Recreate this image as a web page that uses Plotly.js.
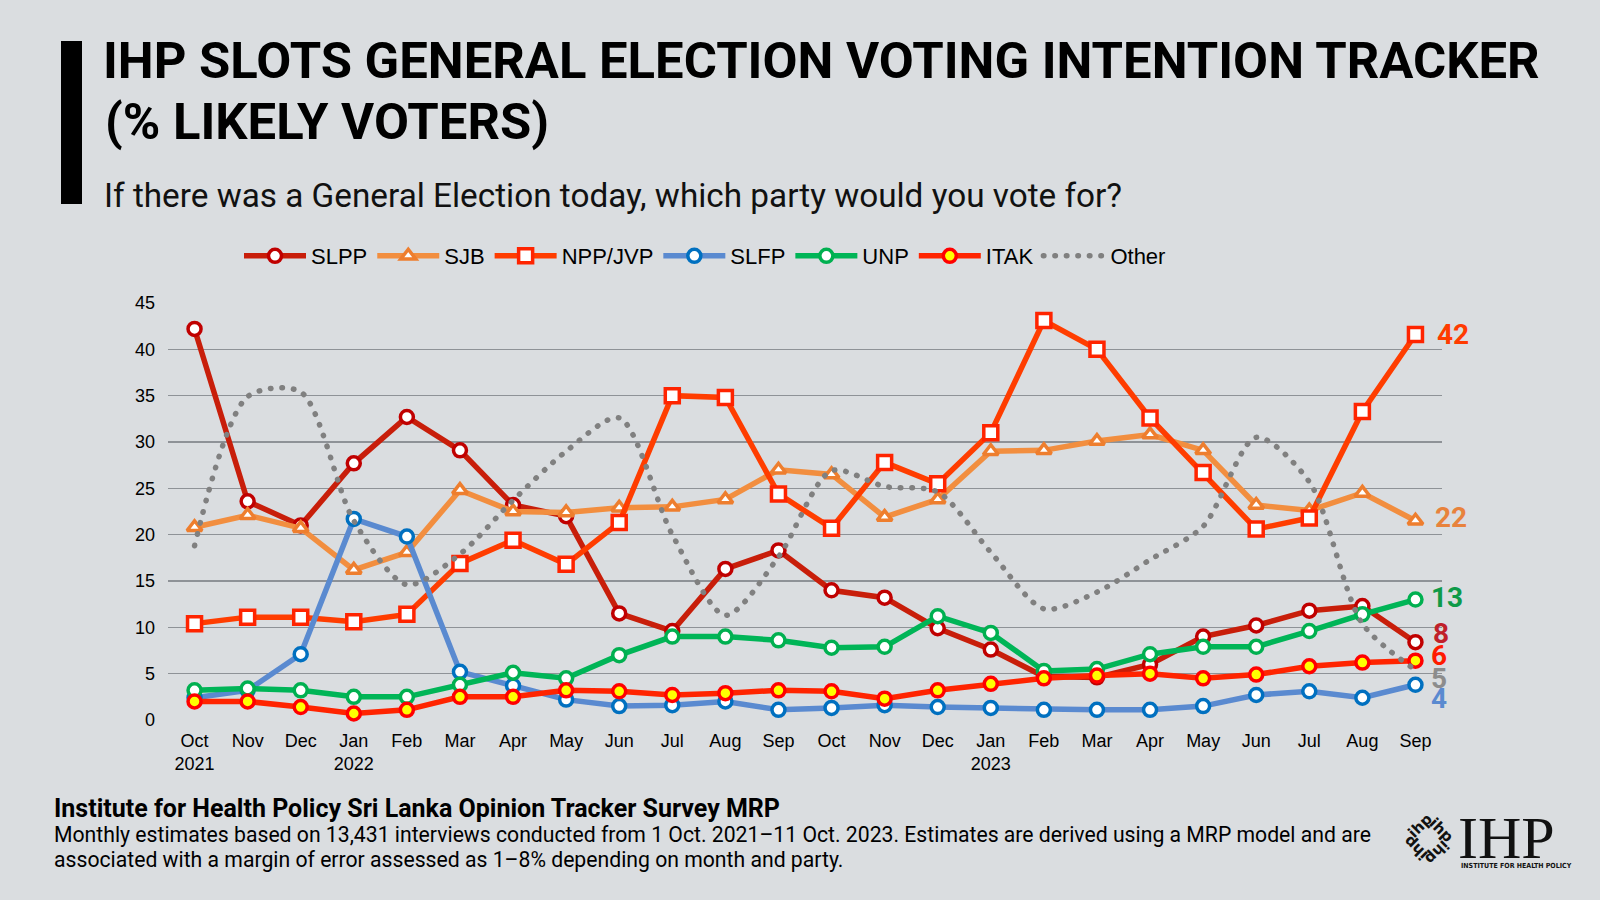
<!DOCTYPE html>
<html><head><meta charset="utf-8">
<script src="https://cdn.plot.ly/plotly-3.0.1.min.js"></script>
<style>
html,body{margin:0;padding:0;background:#DADDE0;} #chart{width:1600px;height:900px;}
path.js-line[style*="dasharray"]{stroke-linecap:round;}
</style>
</head><body><div id="chart"></div>
<script>
// ---- DATA ----
const categories = ["Oct 2021","Nov 2021","Dec 2021","Jan 2022","Feb 2022","Mar 2022","Apr 2022","May 2022","Jun 2022","Jul 2022","Aug 2022","Sep 2022","Oct 2022","Nov 2022","Dec 2022","Jan 2023","Feb 2023","Mar 2023","Apr 2023","May 2023","Jun 2023","Jul 2023","Aug 2023","Sep 2023"];
const tickLabels = ["Oct<br>2021","Nov","Dec","Jan<br>2022","Feb","Mar","Apr","May","Jun","Jul","Aug","Sep","Oct","Nov","Dec","Jan<br>2023","Feb","Mar","Apr","May","Jun","Jul","Aug","Sep"];
const slpp  = [42.2,23.6,21.0,27.7,32.7,29.1,23.2,22.0,11.5,9.6,16.3,18.3,14.0,13.2,9.9,7.6,4.7,4.6,6.0,9.0,10.2,11.8,12.3,8.4];
const sjb   = [20.8,22.1,20.7,16.2,18.1,24.8,22.5,22.4,22.9,23.0,23.8,27.0,26.5,21.9,23.8,29.0,29.1,30.1,30.8,29.1,23.2,22.6,24.5,21.5];
const nppjvp= [10.4,11.1,11.1,10.6,11.4,16.9,19.4,16.8,21.3,35.0,34.8,24.4,20.7,27.8,25.5,31.0,43.1,40.0,32.6,26.7,20.6,21.8,33.3,41.6];
const slfp  = [2.4,3.2,7.1,21.7,19.8,5.2,3.7,2.2,1.5,1.6,2.0,1.1,1.3,1.6,1.4,1.3,1.1,1.1,1.1,1.5,2.7,3.1,2.4,3.8];
const unp   = [3.2,3.4,3.2,2.5,2.5,3.8,5.1,4.5,7.0,9.0,9.0,8.6,7.8,7.9,11.2,9.4,5.3,5.5,7.1,7.9,7.9,9.6,11.4,13.0];
const itak  = [2.0,2.0,1.4,0.7,1.1,2.5,2.5,3.2,3.1,2.7,2.9,3.2,3.1,2.3,3.2,3.9,4.5,4.8,5.0,4.5,4.9,5.8,6.2,6.4];
const other = [18.8,34.9,35.4,21.5,14.6,17.9,23.7,29.0,32.6,20.0,11.3,17.6,26.9,25.2,24.6,18.1,12.0,13.8,17.3,20.9,30.5,25.7,10.4,5.4];
const seriesNames = ["SLPP","SJB","NPP/JVP","SLFP","UNP","ITAK","Other"];
const yTicks = [0,5,10,15,20,25,30,35,40,45];

// ---- STYLES ----
const W = 1600, H = 900;
const M = {l:168, r:158, t:303, b:180};
const PW = W - M.l - M.r, PH = H - M.t - M.b;
const px = x => (x - M.l) / PW;
const py = y => (H - M.b - y) / PH;

const styles = [
  {line:'#C81E0A', sym:'circle', fill:'#FFFFFF', edge:'#C00000', size:13, label:'#C0202A', dx:16, dy:9},
  {line:'#F28E3F', sym:'triangle-up', fill:'#FFFFFF', edge:'#EE7E2E', size:13, label:'#E8823C', dx:18, dy:3},
  {line:'#FF3D00', sym:'square', fill:'#FFFFFF', edge:'#FF2400', size:14, label:'#FF3B00', dx:20, dy:0},
  {line:'#5A8AD0', sym:'circle', fill:'#FFFFFF', edge:'#0070C0', size:13, label:'#5A8AD0', dx:14, dy:-14},
  {line:'#00B557', sym:'circle', fill:'#FFFFFF', edge:'#00B050', size:13, label:'#0E9A48', dx:14, dy:2},
  {line:'#FF2400', sym:'circle', fill:'#FFFF00', edge:'#FF0000', size:13, label:'#FF1A00', dx:14, dy:5},
  {line:'#808080', dash:'dot', label:'#8C8C8C', dx:14, dy:-9}
];
const values = [slpp, sjb, nppjvp, slfp, unp, itak, other];

const traces = values.map((v, i) => {
  const s = styles[i];
  const t = {
    type:'scatter', x: categories, y: v, name: seriesNames[i],
    cliponaxis:false, hoverinfo:'name+y'
  };
  if (s.dash) {
    t.mode = 'lines';
    t.line = {color:s.line, width:5.5, dash:'0.5px,11px', shape:'spline', smoothing:0.8};
  } else {
    t.mode = 'lines+markers';
    t.line = {color:s.line, width:5.5};
    t.marker = {symbol:s.sym, size:s.size, color:s.fill, line:{color:s.edge, width:3.5}};
  }
  return t;
});

const ann = [];
// end labels
values.forEach((v, i) => {
  const s = styles[i];
  ann.push({xref:'x', yref:'y', x: categories[categories.length-1], y: v[v.length-1],
    text:'<b>' + Math.round(v[v.length-1]) + '</b>', showarrow:false, xanchor:'left', yanchor:'middle',
    xshift:s.dx, yshift:s.dy, font:{family:'Roboto', size:28, color:s.label}});
});
// title line 2
ann.push({xref:'paper', yref:'paper', x:px(103), y:py(121), xanchor:'left', yanchor:'middle', showarrow:false,
  text:'<b>(% LIKELY VOTERS)</b>', font:{family:'Roboto', size:50.8, color:'#000'}});
// subtitle
ann.push({xref:'paper', yref:'paper', x:px(102), y:py(195), xanchor:'left', yanchor:'middle', showarrow:false,
  text:'If there was a General Election today, which party would you vote for?', font:{family:'Roboto', size:33.3, color:'#111'}});
// footer
ann.push({xref:'paper', yref:'paper', x:px(52), y:py(808), xanchor:'left', yanchor:'middle', showarrow:false,
  text:'<b>Institute for Health Policy Sri Lanka Opinion Tracker Survey MRP</b>', font:{family:'Roboto', size:25, color:'#000'}});
ann.push({xref:'paper', yref:'paper', x:px(52), y:py(834), xanchor:'left', yanchor:'middle', showarrow:false,
  text:'Monthly estimates based on 13,431 interviews conducted from 1 Oct. 2021–11 Oct. 2023. Estimates are derived using a MRP model and are', font:{family:'Roboto', size:21.2, color:'#000'}});
ann.push({xref:'paper', yref:'paper', x:px(52), y:py(859), xanchor:'left', yanchor:'middle', showarrow:false,
  text:'associated with a margin of error assessed as 1–8% depending on month and party.', font:{family:'Roboto', size:21.2, color:'#000'}});
// logo
ann.push({xref:'paper', yref:'paper', x:px(1456), y:py(838), xanchor:'left', yanchor:'middle', showarrow:false,
  text:'IHP', font:{family:'Liberation Serif, Times New Roman, serif', size:60, color:'#111'}});
ann.push({xref:'paper', yref:'paper', x:px(1459), y:py(866), xanchor:'left', yanchor:'middle', showarrow:false,
  text:'<b>INSTITUTE FOR HEALTH POLICY</b>', font:{family:'DejaVu Sans Condensed, DejaVu Sans', size:7, color:'#111'}});
const motif = [[1420,826,-45],[1441,830,45],[1437,852,135],[1416,848,-135]];
motif.forEach(m => ann.push({xref:'paper', yref:'paper', x:px(m[0]), y:py(m[1]), xanchor:'center', yanchor:'middle', showarrow:false,
  text:'<b>ihp</b>', textangle:m[2], font:{family:'DejaVu Sans', size:15, color:'#111'}}));

const layout = {
  width:W, height:H,
  paper_bgcolor:'#DADDE0', plot_bgcolor:'#DADDE0',
  margin:{l:M.l, r:M.r, t:M.t, b:M.b, pad:0},
  title:{text:'<b>IHP SLOTS GENERAL ELECTION VOTING INTENTION TRACKER</b>', font:{family:'Roboto', size:50.8, color:'#000'},
    xref:'container', yref:'container', x:103/W, xanchor:'left', y:1-60/H, yanchor:'middle'},
  showlegend:true,
  legend:{orientation:'h', x:px(239), xanchor:'left', y:py(256), yanchor:'middle', itemwidth:62,
    font:{family:'Liberation Sans, Arial', size:22, color:'#000'}, bgcolor:'rgba(0,0,0,0)', traceorder:'normal'},
  xaxis:{type:'category', range:[-0.5, categories.length-0.5], tickvals:categories, ticktext:tickLabels,
    showgrid:false, zeroline:false, showline:false, ticks:'', ticklabelstandoff:8,
    tickfont:{family:'Liberation Sans, Arial', size:18, color:'#000'}, fixedrange:true},
  yaxis:{range:[0,45], tickvals:yTicks, showgrid:true, gridcolor:'#8E9297', gridwidth:1.5, zeroline:false,
    showline:false, ticks:'', ticklabelstandoff:12, tickfont:{family:'Liberation Sans, Arial', size:18, color:'#000'}, fixedrange:true},
  shapes:[{type:'rect', xref:'paper', yref:'paper', x0:px(61), x1:px(82), y0:py(204), y1:py(41), fillcolor:'#000', line:{width:0}, layer:'above'}],
  annotations:ann
};
Plotly.newPlot('chart', traces, layout, {displayModeBar:false, staticPlot:true});
</script></body></html>
